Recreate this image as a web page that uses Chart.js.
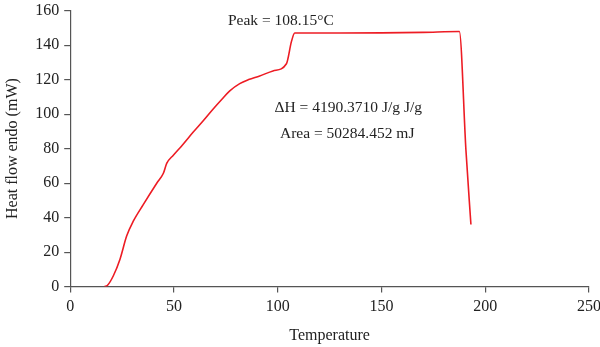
<!DOCTYPE html>
<html>
<head>
<meta charset="utf-8">
<script src="https://cdn.jsdelivr.net/npm/chart.js@4"></script>
<style>
  html, body { margin: 0; padding: 0; background: #fff; overflow: hidden; }
  /* le cadre deborde un peu en haut et a droite pour coller les axes aux bords */
  #wrap { position: absolute; left: 0; top: -4px; width: 606px; height: 351px; }
</style>
</head>
<body>
<div id="wrap"><canvas id="c"></canvas></div>
<script>
// courbe DSC : flux de chaleur en fonction de la temperature
var temperature = [16.5, 18, 20.8, 24, 27.2, 30.4, 35.2, 41.7, 44.9, 46.5, 49.7, 54, 59.3, 64, 68.9, 73, 76.9, 81.7, 86, 91.3, 97.7, 104.2, 106.6, 108.2, 130, 150, 170, 187.5, 190.7, 193.1]
var heatFlow = [0, 0.8, 6.3, 15.9, 29.3, 37.9, 47.5, 59.9, 65.7, 71.4, 76.2, 82, 89.6, 96, 103, 108.5, 113.5, 117.7, 120, 122.1, 125, 129.2, 142, 147, 147, 147.1, 147.4, 147.9, 79, 36]

var xTicks = [0, 50, 100, 150, 200, 250]
var yTicks = [0, 20, 40, 60, 80, 100, 120, 140, 160]

// textes poses sur le graph, en coordonnees de donnees
var noteTexts = ["Peak = 108.15°C", "ΔH = 4190.3710 J/g J/g", "Area = 50284.452 mJ"]
var noteX = [101.5, 134, 133.5]
var noteY = [154.3, 103.3, 88.7]

var axis_color = '#555'
var text_color = '#222'
var serif = "'Liberation Serif', 'DejaVu Serif', serif"

var points = temperature.map(function (t, i) { return { x: t, y: heatFlow[i] } })

const notes = {
  id: 'notes',
  afterDatasetsDraw: (chart) => {
    const { ctx, scales } = chart
    ctx.save()
    ctx.fillStyle = text_color
    ctx.font = '15.5px ' + serif
    ctx.textAlign = 'center'
    ctx.textBaseline = 'middle'
    for (var i = 0; i < noteTexts.length; i++) {
      ctx.fillText(noteTexts[i], scales.x.getPixelForValue(noteX[i]), scales.y.getPixelForValue(noteY[i]))
    }
    ctx.restore()
  }
}

var config = {
  type: 'line',
  data: {
    datasets: [{
      data: points,
      borderColor: 'rgb(237, 28, 36)',
      borderWidth: 1.6,
      pointRadius: 0,
      cubicInterpolationMode: 'monotone',
      fill: false
    }]
  },
  options: {
    responsive: true,
    maintainAspectRatio: false,
    animation: false,
    layout: { padding: { top: 0, right: 0, left: 3, bottom: 0 } },
    plugins: {
      legend: { display: false },
      tooltip: { enabled: false }
    },
    scales: {
      x: {
        type: 'linear',
        min: 0,
        max: 250,
        afterBuildTicks: (axis) => { axis.ticks = xTicks.map(v => ({ value: v })) },
        grid: { drawOnChartArea: false, drawTicks: true, tickLength: 6, color: axis_color, lineWidth: 1.2 },
        border: { color: axis_color, width: 1.2 },
        ticks: { color: text_color, font: { family: serif, size: 16 }, padding: 5, maxRotation: 0 },
        title: { display: true, text: 'Temperature', color: text_color, font: { family: serif, size: 16 }, padding: { top: 4, bottom: 2 } }
      },
      y: {
        min: 0,
        max: 160,
        afterBuildTicks: (axis) => { axis.ticks = yTicks.map(v => ({ value: v })) },
        grid: { drawOnChartArea: false, drawTicks: true, tickLength: 6, color: axis_color, lineWidth: 1.2 },
        border: { color: axis_color, width: 1.2 },
        ticks: { color: text_color, font: { family: serif, size: 16 }, padding: 5 },
        title: { display: true, text: 'Heat flow endo (mW)', color: text_color, font: { family: serif, size: 16 }, padding: { top: 0, bottom: 8 } }
      }
    }
  },
  plugins: [notes]
}

var chart = new Chart(document.getElementById('c'), config)
</script>
</body>
</html>
